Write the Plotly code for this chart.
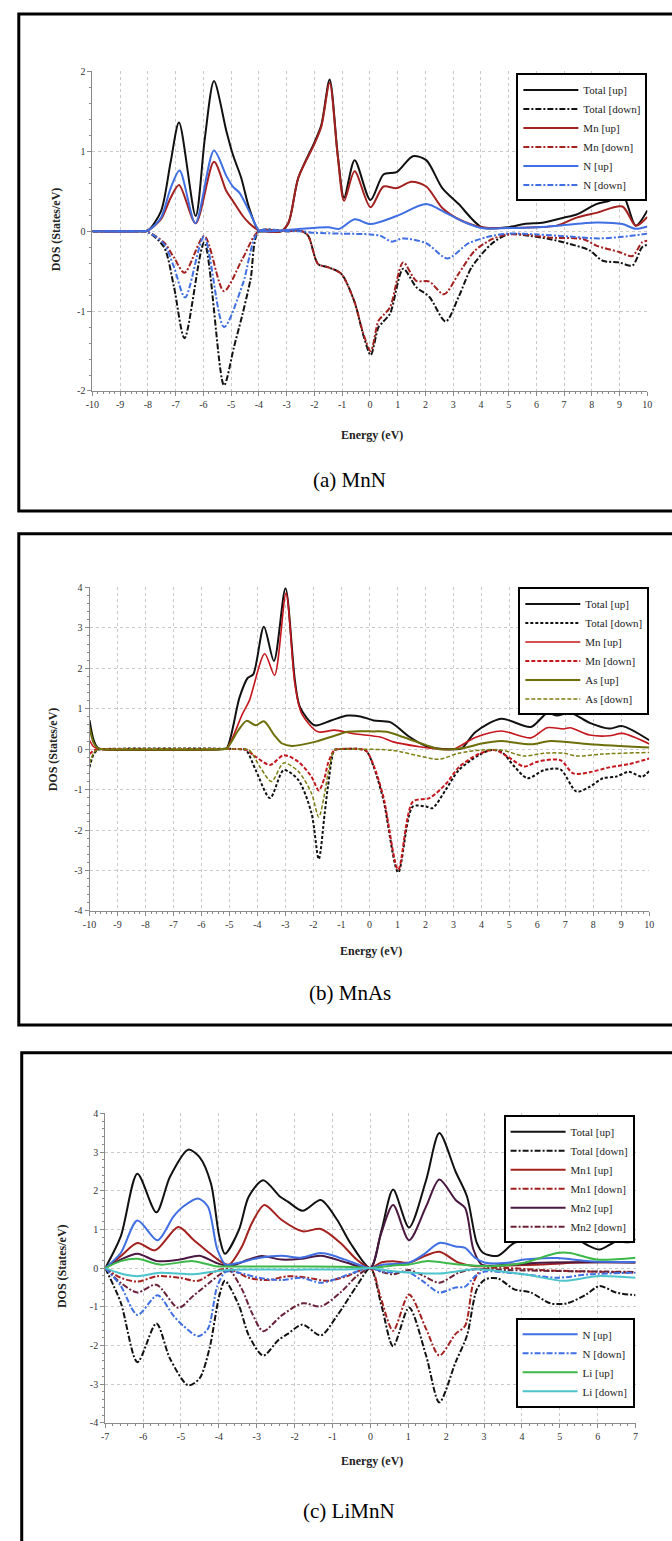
import plotly.graph_objects as go

W, H = 672, 1541

# ---------------- Panel (a) MnN ----------------
a_tot_up_x = [-10, -8.3, -8.0, -7.53, -7.18, -6.88, -6.28, -5.95, -5.62, -5.17, -4.94, -4.64, -4.35, -4.0, -3.8, -3.2, -2.93, -2.58, -1.99, -1.75, -1.45, -1.16, -0.93, -0.55, 0.02, 0.49, 0.96, 1.55, 2.03, 2.61, 3.2, 4.03, 4.97, 5.56, 6.27, 6.98, 7.45, 8.16, 8.63, 9.1, 9.58, 10.0]
a_tot_up_y = [0, 0, 0.01, 0.25, 0.87, 1.36, 0.19, 1.16, 1.88, 1.25, 0.96, 0.67, 0.29, 0, 0, 0, 0.11, 0.67, 1.12, 1.33, 1.90, 0.96, 0.42, 0.89, 0.39, 0.71, 0.74, 0.94, 0.89, 0.54, 0.34, 0.05, 0.05, 0.09, 0.11, 0.17, 0.21, 0.34, 0.38, 0.46, 0.07, 0.26]

a_mn_up_x = [-10, -8.3, -8.0, -7.53, -7.18, -6.88, -6.28, -5.62, -5.17, -4.94, -4.6, -4.35, -4.0, -3.8, -3.2, -2.93, -2.58, -1.99, -1.75, -1.45, -1.16, -0.93, -0.55, 0.02, 0.49, 0.96, 1.5, 2.03, 2.61, 3.2, 4.03, 5.0, 6.0, 6.74, 7.45, 8.16, 9.1, 9.58, 10.0]
a_mn_up_y = [0, 0, 0.01, 0.15, 0.42, 0.58, 0.10, 0.87, 0.50, 0.38, 0.20, 0.10, 0.01, 0, 0, 0.11, 0.67, 1.10, 1.31, 1.86, 0.94, 0.38, 0.75, 0.30, 0.56, 0.54, 0.62, 0.56, 0.29, 0.15, 0.05, 0.04, 0.05, 0.07, 0.17, 0.23, 0.31, 0.07, 0.18]

a_n_up_x = [-10, -8.3, -8.0, -7.53, -7.18, -6.86, -6.29, -5.62, -5.17, -4.94, -4.7, -4.35, -4.12, -4.0, -3.5, -2.5, -1.5, -1.1, -0.55, 0.02, 0.96, 2.03, 2.73, 3.5, 4.03, 5.0, 6.0, 6.74, 8.16, 9.1, 9.58, 10.0]
a_n_up_y = [0, 0, 0.01, 0.17, 0.54, 0.76, 0.10, 1.01, 0.69, 0.56, 0.48, 0.25, 0.08, 0.01, 0, 0.03, 0.05, 0.03, 0.15, 0.09, 0.19, 0.34, 0.23, 0.10, 0.04, 0.04, 0.05, 0.07, 0.11, 0.09, 0.03, 0.06]

a_tot_dn_x = [-10, -8.3, -8.0, -7.42, -7.06, -6.68, -5.97, -5.26, -4.9, -4.6, -4.3, -4.0, -3.0, -2.45, -2.22, -1.87, -1.52, -1.04, -0.57, -0.22, 0.03, 0.31, 0.49, 0.73, 1.2, 1.67, 2.14, 2.73, 3.2, 3.67, 4.38, 4.97, 5.8, 6.5, 7.21, 7.92, 8.39, 8.98, 9.46, 9.81, 10.0]
a_tot_dn_y = [0, 0, -0.01, -0.20, -0.70, -1.34, -0.14, -1.93, -1.45, -1.05, -0.60, 0, 0, 0, -0.06, -0.41, -0.45, -0.53, -0.87, -1.32, -1.55, -1.20, -1.13, -1.03, -0.47, -0.70, -0.82, -1.13, -0.82, -0.45, -0.16, -0.04, -0.06, -0.10, -0.16, -0.24, -0.37, -0.39, -0.43, -0.20, -0.17]

a_mn_dn_x = [-10, -8.3, -8.0, -7.42, -7.06, -6.68, -5.97, -5.26, -4.6, -4.0, -3.0, -2.45, -2.22, -1.87, -1.52, -1.04, -0.57, -0.22, 0.03, 0.31, 0.49, 0.73, 1.2, 1.67, 2.14, 2.67, 3.2, 3.79, 4.4, 4.97, 5.8, 6.5, 7.69, 8.16, 8.98, 9.46, 9.81, 10.0]
a_mn_dn_y = [0, 0, -0.01, -0.14, -0.33, -0.52, -0.06, -0.75, -0.35, 0, 0, 0, -0.06, -0.41, -0.45, -0.53, -0.87, -1.30, -1.50, -1.12, -1.05, -0.95, -0.39, -0.62, -0.63, -0.79, -0.53, -0.24, -0.10, -0.04, -0.05, -0.08, -0.10, -0.18, -0.26, -0.31, -0.14, -0.12]

a_n_dn_x = [-10, -8.3, -8.0, -7.42, -7.06, -6.66, -5.98, -5.26, -4.58, -4.0, -3.0, -2.5, -2.0, -1.0, 0.02, 0.4, 0.78, 1.2, 2.03, 2.79, 3.56, 4.38, 4.97, 6.0, 7.33, 8.27, 9.1, 10.0]
a_n_dn_y = [0, 0, -0.01, -0.16, -0.45, -0.83, -0.07, -1.20, -0.66, 0, 0, 0, -0.02, -0.03, -0.04, -0.06, -0.13, -0.09, -0.15, -0.34, -0.15, -0.06, -0.03, -0.04, -0.07, -0.09, -0.07, -0.03]

# ---------------- Panel (b) MnAs ----------------
b_tot_up_x = [-10, -9.85, -9.7, -9.55, -5.3, -5.1, -4.64, -4.35, -4.15, -3.77, -3.41, -3.0, -2.66, -2.48, -1.95, -1.37, -0.78, -0.32, 0.15, 0.74, 1.44, 2.0, 2.37, 3.0, 3.3, 3.78, 4.71, 5.77, 6.35, 6.7, 7.17, 7.87, 8.57, 9.04, 10.0]
b_tot_up_y = [0.72, 0.22, 0.03, 0, 0, 0.02, 1.28, 1.76, 1.85, 3.03, 2.18, 3.98, 1.69, 1.04, 0.59, 0.71, 0.83, 0.81, 0.71, 0.67, 0.30, 0.08, 0.02, 0.0, 0.02, 0.42, 0.75, 0.55, 0.89, 0.83, 0.90, 0.65, 0.51, 0.57, 0.22]

b_mn_up_x = [-10, -9.85, -9.7, -9.55, -5.3, -5.1, -4.53, -4.29, -3.74, -3.39, -2.98, -2.66, -2.42, -1.84, -1.25, -0.55, 0.39, 0.85, 1.79, 2.37, 3.0, 3.78, 4.71, 5.77, 6.35, 6.94, 7.17, 7.87, 8.57, 9.04, 10.0]
b_mn_up_y = [0.22, 0.06, 0.01, 0, 0, 0.02, 0.88, 1.20, 2.36, 1.83, 3.86, 1.60, 0.88, 0.43, 0.47, 0.38, 0.30, 0.18, 0.06, 0.01, 0.0, 0.29, 0.45, 0.28, 0.53, 0.50, 0.53, 0.35, 0.33, 0.39, 0.13]

b_as_up_x = [-10, -9.85, -9.7, -9.55, -5.3, -5.1, -4.7, -4.39, -4.06, -3.77, -3.4, -3.12, -2.77, -1.95, -1.25, -0.78, 0.15, 0.62, 1.2, 2.02, 2.5, 3.3, 4.01, 4.71, 5.77, 6.47, 7.87, 10.0]
b_as_up_y = [0.55, 0.15, 0.02, 0, 0, 0.02, 0.45, 0.70, 0.59, 0.69, 0.35, 0.14, 0.08, 0.18, 0.33, 0.43, 0.44, 0.43, 0.30, 0.10, 0.0, 0.02, 0.14, 0.20, 0.12, 0.20, 0.12, 0.04]

b_tot_dn_x = [-10, -9.85, -9.7, -9.55, -4.6, -4.41, -4.06, -3.55, -3.06, -2.54, -2.07, -1.81, -1.6, -1.48, -1.25, -1.1, -0.3, -0.1, 0.15, 0.5, 1.03, 1.55, 2.02, 2.25, 2.73, 3.19, 3.9, 4.36, 4.71, 5.18, 5.65, 6.23, 6.82, 7.4, 7.87, 8.34, 8.81, 9.27, 9.74, 10.0]
b_tot_dn_y = [-0.45, -0.12, -0.02, 0, 0, -0.02, -0.52, -1.21, -0.52, -0.76, -1.58, -2.72, -1.60, -0.92, -0.02, 0, 0, -0.05, -0.43, -1.25, -3.05, -1.42, -1.42, -1.46, -1.00, -0.52, -0.15, -0.02, -0.06, -0.43, -0.72, -0.52, -0.50, -1.05, -0.93, -0.72, -0.68, -0.56, -0.68, -0.54]

b_mn_dn_x = [-10, -9.85, -9.7, -9.55, -4.6, -4.41, -4.06, -3.55, -3.06, -2.54, -2.07, -1.81, -1.6, -1.48, -1.25, -1.1, -0.3, -0.1, 0.15, 0.5, 1.03, 1.55, 2.14, 2.73, 3.19, 3.9, 4.47, 4.95, 5.53, 6.0, 6.82, 7.28, 7.87, 8.57, 9.27, 10.0]
b_mn_dn_y = [-0.12, -0.03, 0, 0, 0, -0.01, -0.19, -0.39, -0.15, -0.31, -0.68, -1.02, -0.70, -0.35, -0.02, 0, 0, -0.05, -0.40, -1.18, -2.98, -1.30, -1.21, -0.86, -0.45, -0.12, -0.02, -0.19, -0.43, -0.31, -0.27, -0.60, -0.57, -0.45, -0.37, -0.23]

b_as_dn_x = [-10, -9.85, -9.7, -9.55, -4.6, -4.3, -3.9, -3.5, -3.06, -2.54, -2.07, -1.81, -1.6, -1.48, -1.25, -1.1, -0.3, 0.85, 1.79, 2.49, 3.19, 4.01, 4.71, 5.53, 6.23, 6.94, 7.4, 8.34, 10.0]
b_as_dn_y = [-0.35, -0.09, -0.01, 0, 0, -0.02, -0.45, -0.80, -0.34, -0.55, -1.09, -1.68, -1.10, -0.60, -0.02, 0, 0, -0.03, -0.17, -0.25, -0.10, -0.02, -0.02, -0.17, -0.10, -0.10, -0.17, -0.12, -0.08]

# ---------------- Panel (c) LiMnN ----------------
c_tot_up_x = [-7, -6.59, -6.15, -5.65, -5.29, -4.81, -4.51, -4.21, -3.99, -3.84, -3.47, -3.21, -2.83, -2.39, -2.18, -1.79, -1.31, -0.88, -0.53, 0, 0.3, 0.6, 1.02, 1.47, 1.82, 2.25, 2.55, 2.81, 2.98, 3.37, 3.8, 4.23, 4.75, 5.19, 5.7, 6.05, 6.48, 6.83, 7.0]
c_tot_up_y = [0, 0.82, 2.44, 1.44, 2.36, 3.06, 2.87, 2.19, 0.82, 0.37, 0.99, 1.85, 2.27, 1.85, 1.72, 1.48, 1.76, 1.25, 0.65, 0.0, 1.0, 2.03, 1.05, 2.27, 3.49, 2.49, 1.85, 0.65, 0.39, 0.32, 0.65, 0.72, 0.95, 0.91, 0.61, 0.48, 0.68, 0.67, 0.75]

c_tot_dn_x = [-7, -6.59, -6.15, -5.65, -5.29, -4.81, -4.51, -4.25, -3.99, -3.84, -3.47, -3.21, -2.83, -2.44, -2.18, -1.79, -1.31, -0.88, -0.36, 0, 0.3, 0.6, 1.02, 1.47, 1.82, 2.25, 2.55, 2.81, 3.03, 3.37, 3.8, 4.23, 4.75, 5.19, 5.7, 6.05, 6.48, 7.0]
c_tot_dn_y = [0, -0.89, -2.43, -1.43, -2.34, -3.03, -2.85, -2.09, -0.72, -0.33, -0.97, -1.74, -2.26, -1.87, -1.70, -1.46, -1.74, -1.23, -0.46, 0, -1.0, -2.02, -1.02, -2.26, -3.47, -2.43, -1.74, -0.55, -0.29, -0.27, -0.55, -0.63, -0.91, -0.91, -0.68, -0.46, -0.63, -0.70]

c_mn1_up_x = [-7, -6.59, -6.15, -5.68, -5.07, -4.68, -4.25, -3.91, -3.73, -3.39, -3.13, -2.8, -2.35, -1.79, -1.31, -0.79, -0.36, 0, 0.3, 0.6, 1.02, 1.4, 1.82, 2.33, 2.77, 3.63, 4.49, 5.36, 6.22, 7.0]
c_mn1_up_y = [0, 0.31, 0.65, 0.46, 1.06, 0.74, 0.39, 0.14, 0.09, 0.56, 1.16, 1.63, 1.25, 0.95, 1.01, 0.65, 0.22, 0, 0.15, 0.18, 0.14, 0.30, 0.42, 0.14, 0.05, 0.07, 0.09, 0.14, 0.15, 0.16]

c_mn1_dn_x = [-7, -6.59, -6.15, -5.63, -5.03, -4.55, -4.08, -3.73, -3.21, -2.7, -2.18, -1.66, -1.14, -0.62, 0, 0.26, 0.6, 1.02, 1.47, 1.82, 2.25, 2.5, 2.72, 2.94, 3.63, 4.49, 5.36, 6.22, 7.0]
c_mn1_dn_y = [0, -0.25, -0.35, -0.21, -0.25, -0.33, -0.08, -0.02, -0.25, -0.31, -0.21, -0.25, -0.33, -0.21, 0, -0.72, -1.62, -0.68, -1.57, -2.26, -1.70, -1.49, -0.38, -0.03, 0, -0.05, -0.08, -0.10, -0.12]

c_mn2_up_x = [-7, -6.59, -6.15, -5.63, -5.03, -4.51, -4.08, -3.73, -3.21, -2.87, -2.35, -1.83, -1.31, -0.62, 0, 0.26, 0.6, 1.02, 1.47, 1.82, 2.25, 2.5, 2.72, 2.94, 3.63, 4.49, 5.36, 6.22, 7.0]
c_mn2_up_y = [0, 0.22, 0.37, 0.18, 0.22, 0.32, 0.14, 0.05, 0.22, 0.31, 0.22, 0.24, 0.32, 0.14, 0, 0.82, 1.63, 0.72, 1.59, 2.29, 1.76, 1.55, 0.48, 0.09, 0.09, 0.14, 0.15, 0.15, 0.14]

c_mn2_dn_x = [-7, -6.59, -6.15, -5.65, -5.07, -4.68, -4.25, -3.91, -3.73, -3.39, -3.13, -2.83, -2.35, -1.79, -1.31, -0.79, -0.36, 0, 0.3, 0.6, 1.02, 1.4, 1.82, 2.33, 2.77, 3.63, 4.49, 5.36, 6.22, 7.0]
c_mn2_dn_y = [0, -0.38, -0.63, -0.43, -1.03, -0.72, -0.38, -0.12, -0.05, -0.55, -1.15, -1.63, -1.23, -0.91, -0.99, -0.63, -0.21, 0, -0.10, -0.16, -0.05, -0.20, -0.38, -0.12, -0.03, -0.05, -0.07, -0.08, -0.09, -0.10]

c_n_x = [-7, -6.59, -6.15, -5.62, -5.2, -4.94, -4.55, -4.29, -4.04, -3.82, -3.47, -2.95, -2.35, -1.83, -1.31, -0.97, -0.45, 0, 0.35, 1.02, 1.4, 1.82, 2.25, 2.5, 2.77, 3.03, 3.63, 4.06, 4.93, 5.79, 7.0]
c_n_up_y = [0, 0.39, 1.23, 0.72, 1.33, 1.59, 1.80, 1.59, 0.48, 0.09, 0.14, 0.26, 0.32, 0.27, 0.39, 0.32, 0.14, 0, 0.09, 0.14, 0.35, 0.65, 0.56, 0.52, 0.26, 0.14, 0.14, 0.22, 0.26, 0.18, 0.16]
c_n_dn_y = [0, -0.46, -1.21, -0.70, -1.23, -1.49, -1.76, -1.57, -0.46, -0.10, -0.12, -0.25, -0.31, -0.25, -0.38, -0.30, -0.12, 0, -0.10, -0.12, -0.35, -0.63, -0.50, -0.48, -0.20, -0.09, -0.12, -0.16, -0.25, -0.16, -0.12]

c_li_up_x = [-7, -6.59, -6.15, -5.55, -4.68, -4.08, -3.7, -2.0, -0.5, 0, 0.6, 1.02, 1.47, 2.33, 3.2, 4.06, 4.93, 5.27, 5.97, 7.0]
c_li_up_y = [0, 0.18, 0.24, 0.09, 0.18, 0.05, 0.04, 0.04, 0.03, 0, 0.07, 0.09, 0.18, 0.09, 0.05, 0.14, 0.39, 0.39, 0.22, 0.27]
c_li_dn_x = [-7, -6.59, -6.15, -5.55, -4.68, -4.08, -3.7, -2.0, -0.5, 0, 0.6, 1.82, 2.77, 4.06, 5.1, 5.97, 7.0]
c_li_dn_y = [0, -0.14, -0.21, -0.12, -0.16, -0.08, -0.04, -0.04, -0.03, 0, -0.08, -0.14, -0.03, -0.16, -0.33, -0.21, -0.25]

a_ticks = list(range(-10, 11))
c_ticks = list(range(-7, 8))

# ---------------- figure ----------------
SERIF = "Liberation Serif"
BLACK = "#111111"
RED_A = "#a3211f"
BLUE = "#3f6fe3"
RED_B = "#c4161c"
OLIVE = "#6e6e0a"
MN2_UP = "#4a1840"
MN2_DN = "#6a2236"
GREEN = "#3db84a"
CYAN = "#4cc4cc"
DASHDOT = "6px,2px,2px,2px"

def px(x):
    return x / W

def py(y):
    return 1 - y / H

fig = go.Figure()

def add(x, y, name, color, dash, width, ax, leg):
    fig.add_trace(go.Scatter(
        x=x, y=y, name=name, mode="lines",
        line=dict(color=color, dash=dash, width=width, shape="spline", smoothing=0.8),
        xaxis="x" + ax, yaxis="y" + ax, legend=leg, hoverinfo="skip"))

# panel a
add(a_tot_up_x, a_tot_up_y, "Total [up]", BLACK, "solid", 2, "", "legend")
add(a_tot_dn_x, a_tot_dn_y, "Total [down]", BLACK, DASHDOT, 2, "", "legend")
add(a_mn_up_x, a_mn_up_y, "Mn [up]", RED_A, "solid", 2, "", "legend")
add(a_mn_dn_x, a_mn_dn_y, "Mn [down]", RED_A, DASHDOT, 2, "", "legend")
add(a_n_up_x, a_n_up_y, "N [up]", BLUE, "solid", 2, "", "legend")
add(a_n_dn_x, a_n_dn_y, "N [down]", BLUE, DASHDOT, 2, "", "legend")
# panel b
add(b_tot_up_x, b_tot_up_y, "Total [up]", BLACK, "solid", 2, "2", "legend2")
add(b_tot_dn_x, b_tot_dn_y, "Total [down]", BLACK, "3px,2px", 2, "2", "legend2")
add(b_mn_up_x, b_mn_up_y, "Mn [up]", RED_B, "solid", 1.6, "2", "legend2")
add(b_mn_dn_x, b_mn_dn_y, "Mn [down]", RED_B, "4px,2px", 2, "2", "legend2")
add(b_as_up_x, b_as_up_y, "As [up]", OLIVE, "solid", 2, "2", "legend2")
add(b_as_dn_x, b_as_dn_y, "As [down]", "#7d7d10", "4px,2px", 1.5, "2", "legend2")
# panel c
add(c_tot_up_x, c_tot_up_y, "Total [up]", BLACK, "solid", 2, "3", "legend3")
add(c_tot_dn_x, c_tot_dn_y, "Total [down]", BLACK, DASHDOT, 2, "3", "legend3")
add(c_mn1_up_x, c_mn1_up_y, "Mn1 [up]", RED_A, "solid", 2, "3", "legend3")
add(c_mn1_dn_x, c_mn1_dn_y, "Mn1 [down]", RED_A, DASHDOT, 2, "3", "legend3")
add(c_mn2_up_x, c_mn2_up_y, "Mn2 [up]", MN2_UP, "solid", 2, "3", "legend3")
add(c_mn2_dn_x, c_mn2_dn_y, "Mn2 [down]", MN2_DN, DASHDOT, 2, "3", "legend3")
add(c_n_x, c_n_up_y, "N [up]", BLUE, "solid", 2, "3", "legend4")
add(c_n_x, c_n_dn_y, "N [down]", BLUE, DASHDOT, 2, "3", "legend4")
add(c_li_up_x, c_li_up_y, "Li [up]", GREEN, "solid", 2, "3", "legend4")
add(c_li_dn_x, c_li_dn_y, "Li [down]", CYAN, "solid", 2, "3", "legend4")

tickfont = dict(family=SERIF, size=10, color="#333")
AXC = "#8a8a8a"

def axis(domain, rng, ticks, anchor):
    return dict(domain=domain, range=rng, anchor=anchor, tickvals=ticks,
                ticktext=[str(t) for t in ticks], tickfont=tickfont,
                showline=True, linecolor=AXC, linewidth=1, mirror=False,
                ticks="outside", ticklen=4, tickcolor=AXC,
                minor=dict(dtick=0.2, ticks="outside", ticklen=2, tickcolor=AXC, showgrid=False),
                showgrid=True, gridcolor="#c9c9c9", griddash="dot", gridwidth=1,
                zeroline=False, fixedrange=True)

def legend(right, top):
    return dict(x=px(right), y=py(top), xanchor="right", yanchor="top",
                bgcolor="white", bordercolor="#000", borderwidth=2,
                font=dict(family=SERIF, size=11, color="#222"),
                itemwidth=55, tracegroupgap=0, traceorder="normal")

fig.update_layout(
    width=W, height=H, autosize=False,
    margin=dict(l=0, r=0, t=0, b=0),
    paper_bgcolor="white", plot_bgcolor="white",
    showlegend=True,
    xaxis=axis([px(87), px(652)], [-10, 10], a_ticks, "y"),
    yaxis=axis([py(388), py(66)], [-2, 2], [-2, -1, 0, 1, 2], "x"),
    xaxis2=axis([px(84), px(654)], [-10, 10], a_ticks, "y2"),
    yaxis2=axis([py(912), py(586)], [-4, 4], [-4, -3, -2, -1, 0, 1, 2, 3, 4], "x2"),
    xaxis3=axis([px(100), px(640)], [-7, 7], c_ticks, "y3"),
    yaxis3=axis([py(1428), py(1116)], [-4, 4], [-4, -3, -2, -1, 0, 1, 2, 3, 4], "x3"),
    legend=legend(652, 68),
    legend2=legend(654, 586),
    legend3=legend(639, 1118),
    legend4=legend(639, 1322),
)

# frames around panels
frames = [(12, 8, 690, 509), (12, 532, 690, 1027), (15, 1055, 690, 1560)]
for x0, y0, x1, y1 in frames:
    fig.add_shape(type="rect", xref="paper", yref="paper",
                  x0=px(x0), x1=px(x1), y0=py(y1), y1=py(y0),
                  line=dict(color="black", width=3), fillcolor="rgba(0,0,0,0)")

labfont = dict(family=SERIF, size=12, color="#222")
capfont = dict(family=SERIF, size=21, color="black")
annots = [
    (372, 432, "<b>Energy (eV)</b>", labfont, 0),
    (371, 952, "<b>Energy (eV)</b>", labfont, 0),
    (372, 1466, "<b>Energy (eV)</b>", labfont, 0),
    (50, 225, "<b>DOS (States/eV)</b>", labfont, -90),
    (47, 749, "<b>DOS (States/eV)</b>", labfont, -90),
    (56, 1270, "<b>DOS (States/eV)</b>", labfont, -90),
    (349, 478, "(a) MnN", capfont, 0),
    (349, 995, "(b) MnAs", capfont, 0),
    (348, 1517, "(c) LiMnN", capfont, 0),
]
for x, y, t, f, ang in annots:
    fig.add_annotation(x=px(x), y=py(y), xref="paper", yref="paper", text=t,
                       showarrow=False, font=f, textangle=ang,
                       xanchor="center", yanchor="middle")

fig.write_html("out.html",
               config={"displayModeBar": False},
               post_script="document.body.style.margin='0';document.body.style.padding='0';"
                           "document.body.style.overflow='hidden';"
                           "document.documentElement.style.overflow='hidden';")
